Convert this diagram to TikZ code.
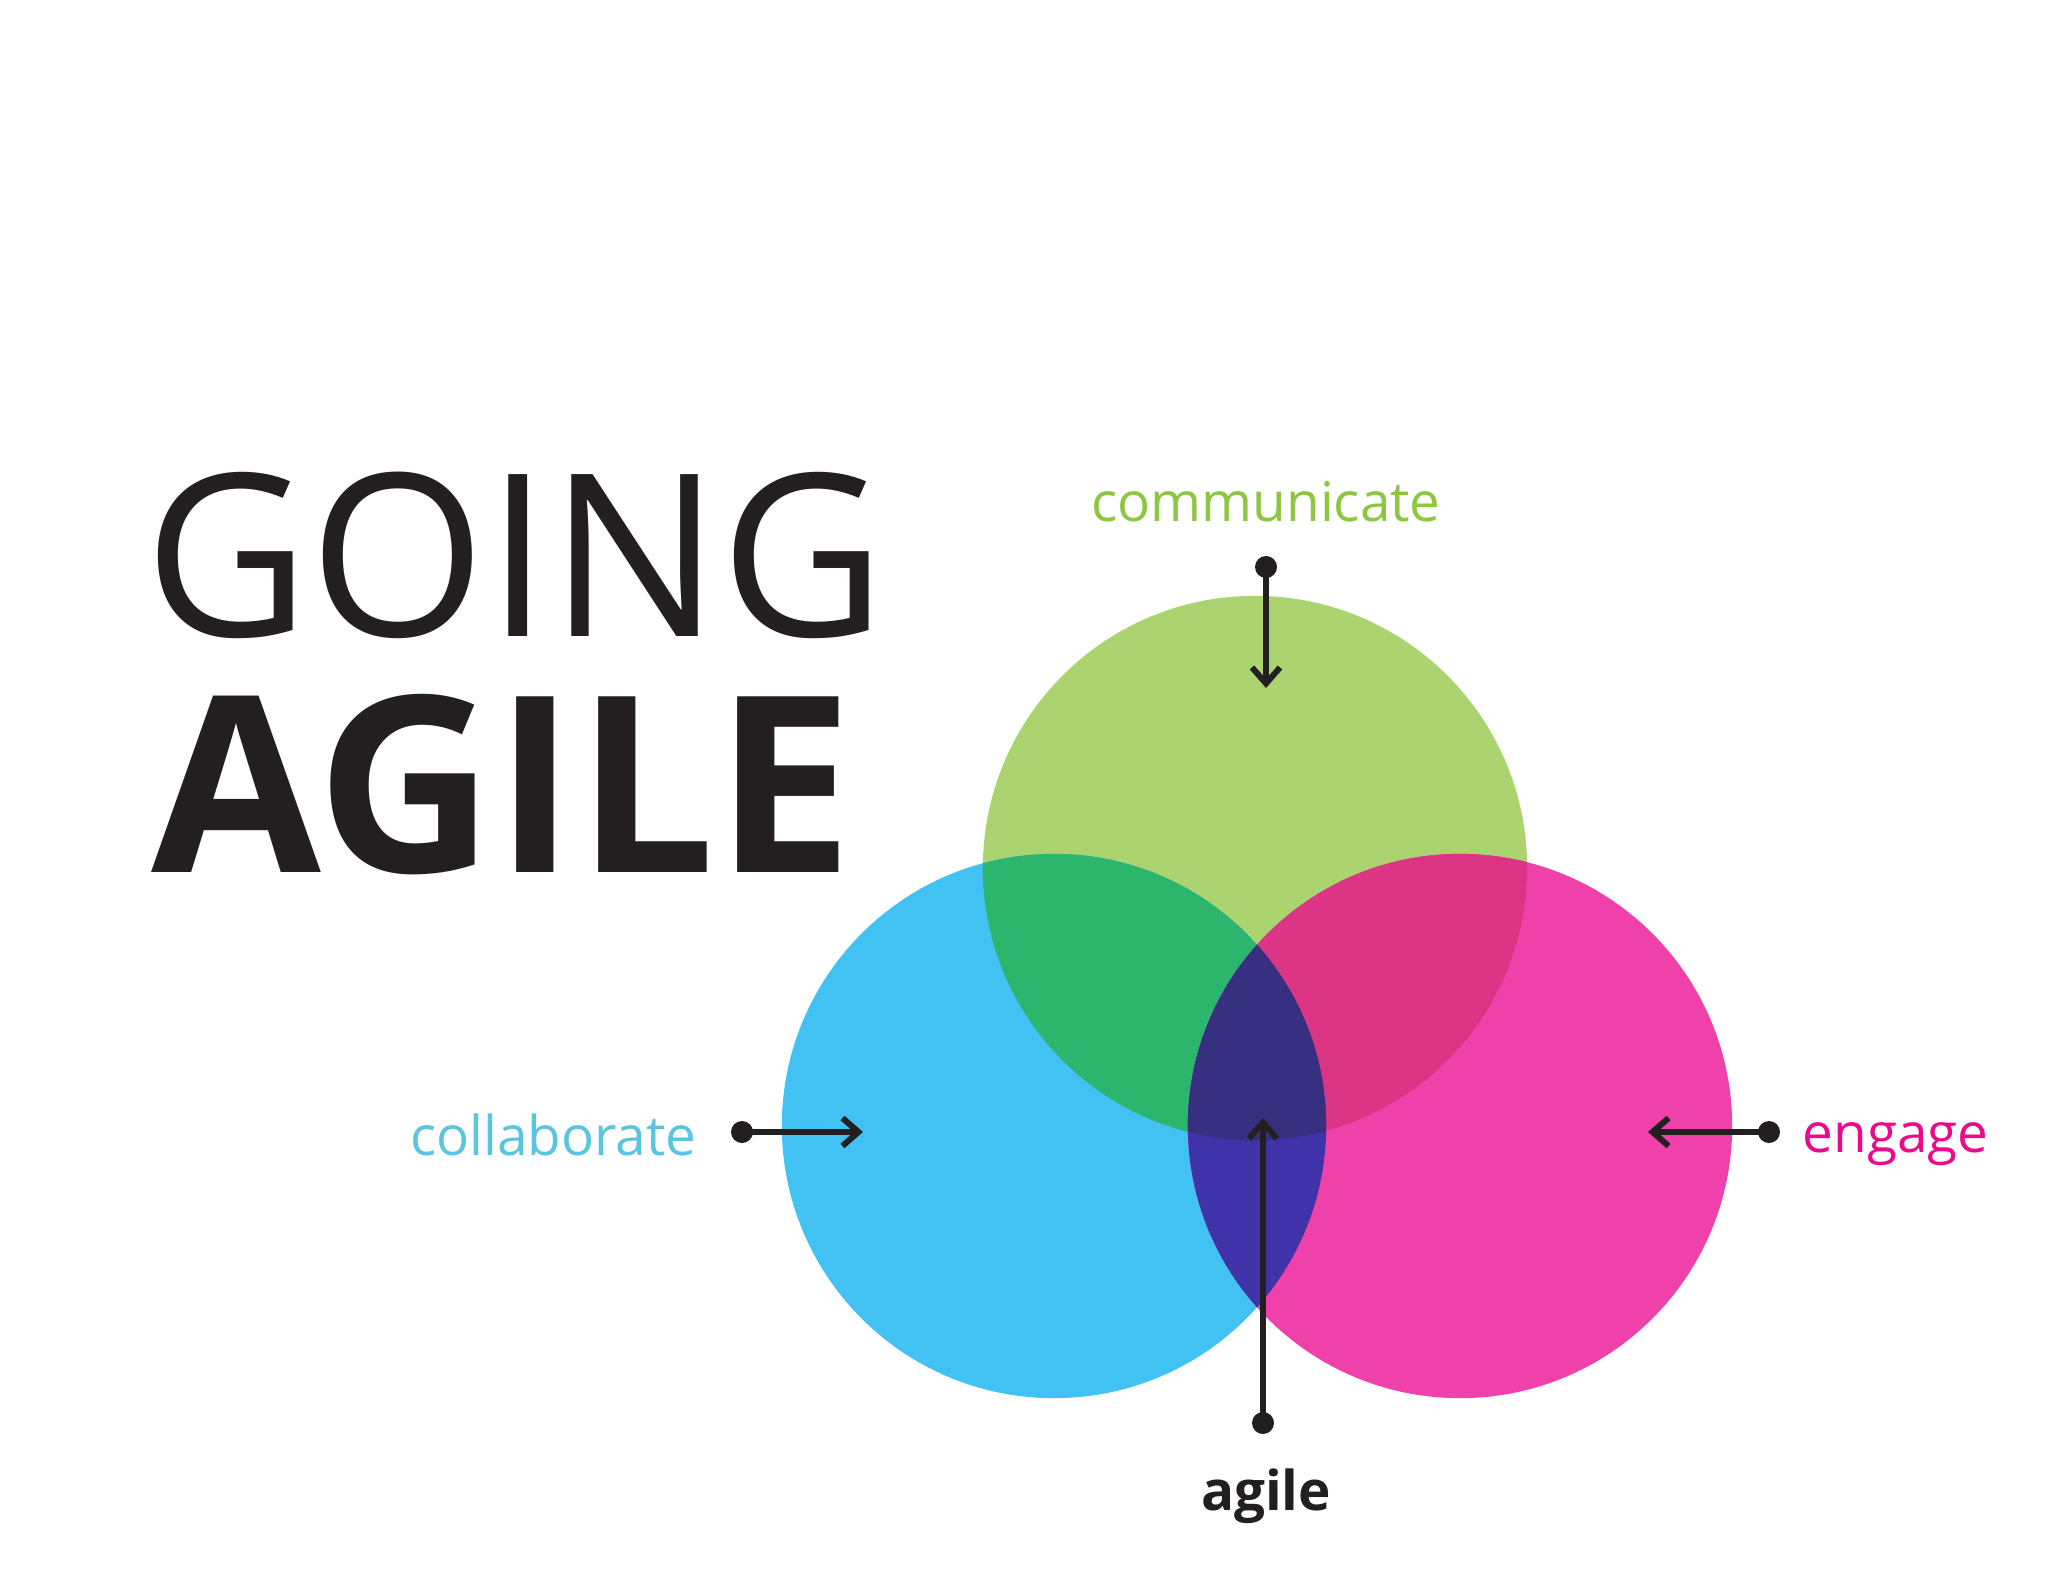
\documentclass[tikz,border=0pt]{standalone}
\usepackage{fontspec}
\setmainfont{Open Sans}
\usetikzlibrary{positioning, arrows.meta}
\definecolor{ink}{HTML}{231F20}
\definecolor{greenfill}{HTML}{ABD470}
\definecolor{bluefill}{HTML}{42C2F2}
\definecolor{pinkfill}{HTML}{F041AA}
\definecolor{greenblue}{HTML}{2CB56C}
\definecolor{greenpink}{HTML}{DD3585}
\definecolor{bluepink}{HTML}{4032A8}
\definecolor{allthree}{HTML}{373080}
\definecolor{greentext}{HTML}{8DC641}
\definecolor{bluetext}{HTML}{5BC4DE}
\definecolor{pinktext}{HTML}{EA0A8C}

\begin{document}
\begin{tikzpicture}[x=0.01cm, y=-0.01cm,
        % styles
        dot/.style={circle, fill=ink, inner sep=0pt, minimum size=2.2mm},
        pointer/.style={draw=ink, line width=1.7pt,
            -{Straight Barb[length=1.6mm, width=2.8mm]}},
        wordlabel/.style={font=\fontsize{15.6}{18}\selectfont, inner sep=0pt},
        bigtitle/.style={text=ink, inner sep=0pt, anchor=base west}
    ]
    \useasboundingbox (0,0) rectangle (2048,1582);

    % circle centres
    \coordinate (gc) at (1255,868);
    \coordinate (bc) at (1054,1126);
    \coordinate (pc) at (1460,1126);
    \def\rad{2.72cm}

    % circles
    \fill[greenfill] (gc) circle[radius=\rad];
    \fill[bluefill] (bc) circle[radius=\rad];
    \fill[pinkfill] (pc) circle[radius=\rad];
    \begin{scope}
        \clip (gc) circle[radius=\rad];
        \fill[greenblue] (bc) circle[radius=\rad];
        \fill[greenpink] (pc) circle[radius=\rad];
    \end{scope}
    \begin{scope}
        \clip (bc) circle[radius=\rad];
        \fill[bluepink] (pc) circle[radius=\rad];
        \clip (gc) circle[radius=\rad];
        \fill[allthree] (pc) circle[radius=\rad];
    \end{scope}

    % title
    \node[bigtitle, font=\fontsize{64.5}{64.5}\selectfont] (going) at (144,636) {GOING};
    \node[bigtitle, font=\fontsize{70}{70}\selectfont\bfseries] (agiletitle) at (151,872) {AGILE};

    % labels
    \node[wordlabel, text=greentext, anchor=base] (communicate) at (1266,521) {communicate};
    \node[wordlabel, text=bluetext, anchor=base east] (collaborate) at (697,1155) {collaborate};
    \node[wordlabel, text=pinktext, anchor=base west] (engage) at (1802,1152) {engage};
    \node[wordlabel, text=ink, anchor=base, font=\fontsize{15.6}{18}\selectfont\bfseries] (agile) at (1266,1510) {agile};

    % pointers
    \node[dot] (comdot) at (1266,567) {};
    \coordinate (comtip) at (1266,688);
    \node[dot] (coldot) at (742,1132) {};
    \coordinate (coltip) at (863,1132);
    \node[dot] (engdot) at (1769,1132) {};
    \coordinate (engtip) at (1648,1132);
    \node[dot] (agidot) at (1263,1423) {};
    \coordinate (agitip) at (1263,1118);

    \draw[pointer] (comdot.center) -- (comtip);
    \draw[pointer] (coldot.center) -- (coltip);
    \draw[pointer] (engdot.center) -- (engtip);
    \draw[pointer] (agidot.center) -- (agitip);

\end{tikzpicture}
\end{document}
